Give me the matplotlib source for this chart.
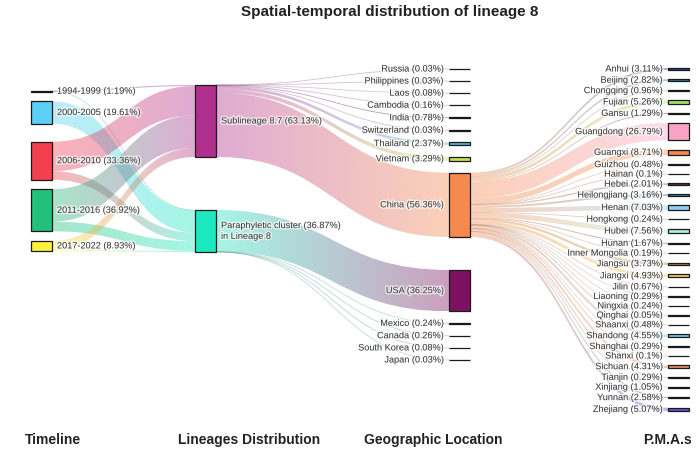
import numpy as np
import matplotlib.pyplot as plt
from matplotlib.path import Path
from matplotlib.patches import PathPatch, Rectangle
from matplotlib.colors import to_rgb
import matplotlib.patheffects as pe

plt.rcParams['font.family'] = ['Liberation Sans', 'DejaVu Sans']

# ---- data (percent of all isolates unless noted) ----
periods = ["1994-1999", "2000-2005", "2006-2010", "2011-2016", "2017-2022"]
period_pct = [1.19, 19.61, 33.36, 36.92, 8.93]
period_colors = ["#4a4620", "#5bcff5", "#f2404f", "#22c07a", "#fff23a"]

lineages = ["Sublineage 8.7", "Paraphyletic cluster"]
lineage_pct = [63.13, 36.87]
lineage_colors = ["#b0308f", "#1de9c0"]

# period -> lineage flows
period_to_sub = [0.95, 0.0, 25.86, 28.42, 7.91]
period_to_para = [0.24, 19.61, 7.50, 8.50, 1.02]

countries = ["Russia", "Philippines", "Laos", "Cambodia", "India", "Switzerland",
             "Thailand", "Vietnam", "China", "USA", "Mexico", "Canada",
             "South Korea", "Japan"]
country_pct = [0.03, 0.03, 0.08, 0.16, 0.78, 0.03, 2.37, 3.29, 56.36, 36.25,
               0.24, 0.26, 0.08, 0.03]
country_lineage = [0, 0, 0, 0, 0, 0, 0, 0, 0, 1, 1, 1, 1, 1]
country_colors = ["#333333", "#333333", "#555555", "#333333", "#111111", "#333333",
                  "#5ab4d6", "#c6e05a", "#f58a4e", "#7e1060", "#444444", "#222222",
                  "#111111", "#444444"]

# provinces, percent of the China isolates
provinces = ["Anhui", "Beijing", "Chongqing", "Fujian", "Gansu", "Guangdong",
             "Guangxi", "Guizhou", "Hainan", "Hebei", "Heilongjiang", "Henan",
             "Hongkong", "Hubei", "Hunan", "Inner Mongolia", "Jiangsu", "Jiangxi",
             "Jilin", "Liaoning", "Ningxia", "Qinghai", "Shaanxi", "Shandong",
             "Shanghai", "Shanxi", "Sichuan", "Tianjin", "Xinjiang", "Yunnan",
             "Zhejiang"]
province_pct = [3.11, 2.82, 0.96, 5.26, 1.29, 26.79, 8.71, 0.48, 0.1, 2.01, 3.16,
                7.03, 0.24, 7.56, 1.67, 0.19, 3.73, 4.93, 0.67, 0.29, 0.24, 0.05,
                0.48, 4.55, 0.29, 0.1, 4.31, 0.29, 1.05, 2.58, 5.07]
province_colors = ["#2a3f8f", "#2a7f9f", "#333333", "#a8e070", "#222222", "#f9a3c7",
                   "#f08a50", "#555555", "#222222", "#5a3050", "#3c7fa0", "#8ccff0",
                   "#333333", "#b0f0d8", "#2a5040", "#444444", "#a08a40", "#f0d050",
                   "#444444", "#777777", "#666666", "#777777", "#222222", "#70c0e0",
                   "#777777", "#333333", "#e09070", "#111111", "#444444", "#2a8a50",
                   "#6a4fcf"]

column_titles = ["Timeline", "Lineages Distribution", "Geographic Location", "P.M.A.s"]

# ---- build nodes and links ----
nodes = []
for n, v, c in zip(periods, period_pct, period_colors):
    nodes.append(dict(col=0, name=n, value=v, color=c, label=f"{n} ({v}%)"))
for n, v, c in zip(lineages, lineage_pct, lineage_colors):
    lab = f"{n} ({v}%)"
    if n.startswith("Paraphyletic"):
        lab += "\nin Lineage 8"
    nodes.append(dict(col=1, name=n, value=v, color=c, label=lab))
for n, v, c in zip(countries, country_pct, country_colors):
    nodes.append(dict(col=2, name=n, value=v, color=c, label=f"{n} ({v}%)"))
china_pct = country_pct[countries.index("China")]
for n, v, c in zip(provinces, province_pct, province_colors):
    nodes.append(dict(col=3, name=n, value=v * china_pct / 100, color=c,
                      label=f"{n} ({v}%)"))
idx = {nd['name']: i for i, nd in enumerate(nodes)}

links = []
for p, a, b in zip(periods, period_to_sub, period_to_para):
    if a > 0:
        links.append([idx[p], idx[lineages[0]], a])
    if b > 0:
        links.append([idx[p], idx[lineages[1]], b])
for c, v, l in zip(countries, country_pct, country_lineage):
    links.append([idx[lineages[l]], idx[c], v])
for p in provinces:
    links.append([idx["China"], idx[p], nodes[idx[p]]['value']])

# ---- layout ----
SCALE = 1.14          # pixels per percent
NODE_W = 21
col_x = [31, 195, 449, 668]
col_layout = [
    dict(top=90.5, bottom=251, pad=9.5, slack_before="2006-2010"),
    dict(top=85, bottom=252, pad=None, slack_before=None),
    dict(top=69, bottom=360, pad=12, slack_before="USA"),
    dict(top=68, bottom=411, pad=None, slack_before=None),
]

for c, lay in enumerate(col_layout):
    col_nodes = [nd for nd in nodes if nd['col'] == c]
    h = [nd['value'] * SCALE for nd in col_nodes]
    free = lay['bottom'] - lay['top'] - sum(h)
    pad = lay['pad'] if lay['pad'] is not None else free / (len(h) - 1)
    slack = free - pad * (len(h) - 1)
    y = lay['top']
    for nd, hh in zip(col_nodes, h):
        if nd['name'] == lay['slack_before']:
            y += slack
        nd['y0'], nd['y1'] = y, y + hh
        nd['x0'] = col_x[c]
        y += hh + pad

# stack link ends on each node
for i, nd in enumerate(nodes):
    outs = sorted([l for l in links if l[0] == i], key=lambda l: nodes[l[1]]['y0'])
    y = nd['y0']
    for l in outs:
        l.append(y)
        y += l[2] * SCALE
for i, nd in enumerate(nodes):
    ins = sorted([l for l in links if l[1] == i], key=lambda l: nodes[l[0]]['y0'])
    y = nd['y0']
    for l in ins:
        l.append(y)
        y += l[2] * SCALE

# ---- draw ----
fig = plt.figure(figsize=(7, 4.51), dpi=100)
ax = fig.add_axes([0, 0, 1, 1])
ax.axis('off')

ALPHA = 0.4
for s, t, v, sy, ty in links:
    w = v * SCALE
    x0 = nodes[s]['x0'] + NODE_W
    x1 = nodes[t]['x0']
    xm = (x0 + x1) / 2
    c0, c1 = np.array(to_rgb(nodes[s]['color'])), np.array(to_rgb(nodes[t]['color']))
    if w < 0.7:
        verts = [(x0, sy + w / 2), (xm, sy + w / 2), (xm, ty + w / 2), (x1, ty + w / 2)]
        path = Path(verts, [Path.MOVETO, Path.CURVE4, Path.CURVE4, Path.CURVE4])
        ax.add_patch(PathPatch(path, fc='none', ec=(c0 + c1) / 2, lw=0.6, alpha=0.3))
        continue
    verts = [(x0, sy), (xm, sy), (xm, ty), (x1, ty), (x1, ty + w),
             (xm, ty + w), (xm, sy + w), (x0, sy + w), (x0, sy)]
    codes = [Path.MOVETO, Path.CURVE4, Path.CURVE4, Path.CURVE4, Path.LINETO,
             Path.CURVE4, Path.CURVE4, Path.CURVE4, Path.CLOSEPOLY]
    patch = PathPatch(Path(verts, codes), fc='none', ec='none')
    ax.add_patch(patch)
    g = np.linspace(0, 1, 128)[:, None]
    rgba = np.ones((1, 128, 4))
    rgba[0, :, :3] = (1 - g) * c0 + g * c1
    rgba[0, :, 3] = ALPHA
    ymin, ymax = min(sy, ty), max(sy, ty) + w
    im = ax.imshow(rgba, extent=[x0, x1, ymax, ymin], aspect='auto',
                   interpolation='bilinear', zorder=1)
    im.set_clip_path(patch)

halo = [pe.withStroke(linewidth=2, foreground='white', alpha=0.7)]
for nd in nodes:
    h = max(nd['y1'] - nd['y0'], 0.3)
    ax.add_patch(Rectangle((nd['x0'], nd['y0']), NODE_W, h, fc=nd['color'],
                           ec='#1a1a1a', lw=0.9, zorder=3))
    yc = (nd['y0'] + nd['y1']) / 2
    if nd['col'] < 2:
        ax.text(nd['x0'] + NODE_W + 5, yc, nd['label'], ha='left', va='center',
                fontsize=6.6, color='#3a3a3a', zorder=4, linespacing=1.25,
                path_effects=halo)
    else:
        ax.text(nd['x0'] - 5, yc, nd['label'], ha='right', va='center',
                fontsize=6.6, color='#3a3a3a', zorder=4, path_effects=halo)

ax.text(390, 12, "Spatial-temporal distribution of lineage 8", ha='center',
        va='center', fontsize=11, fontweight='bold', color='#222222')
for x, t in zip([53, 249, 433, 668], column_titles):
    ax.text(x, 440, t, ha='center', va='center', fontsize=10, fontweight='bold',
            color='#222222')

ax.set_xlim(0, 700)
ax.set_ylim(451, 0)
fig.savefig("out.png", dpi=100)
